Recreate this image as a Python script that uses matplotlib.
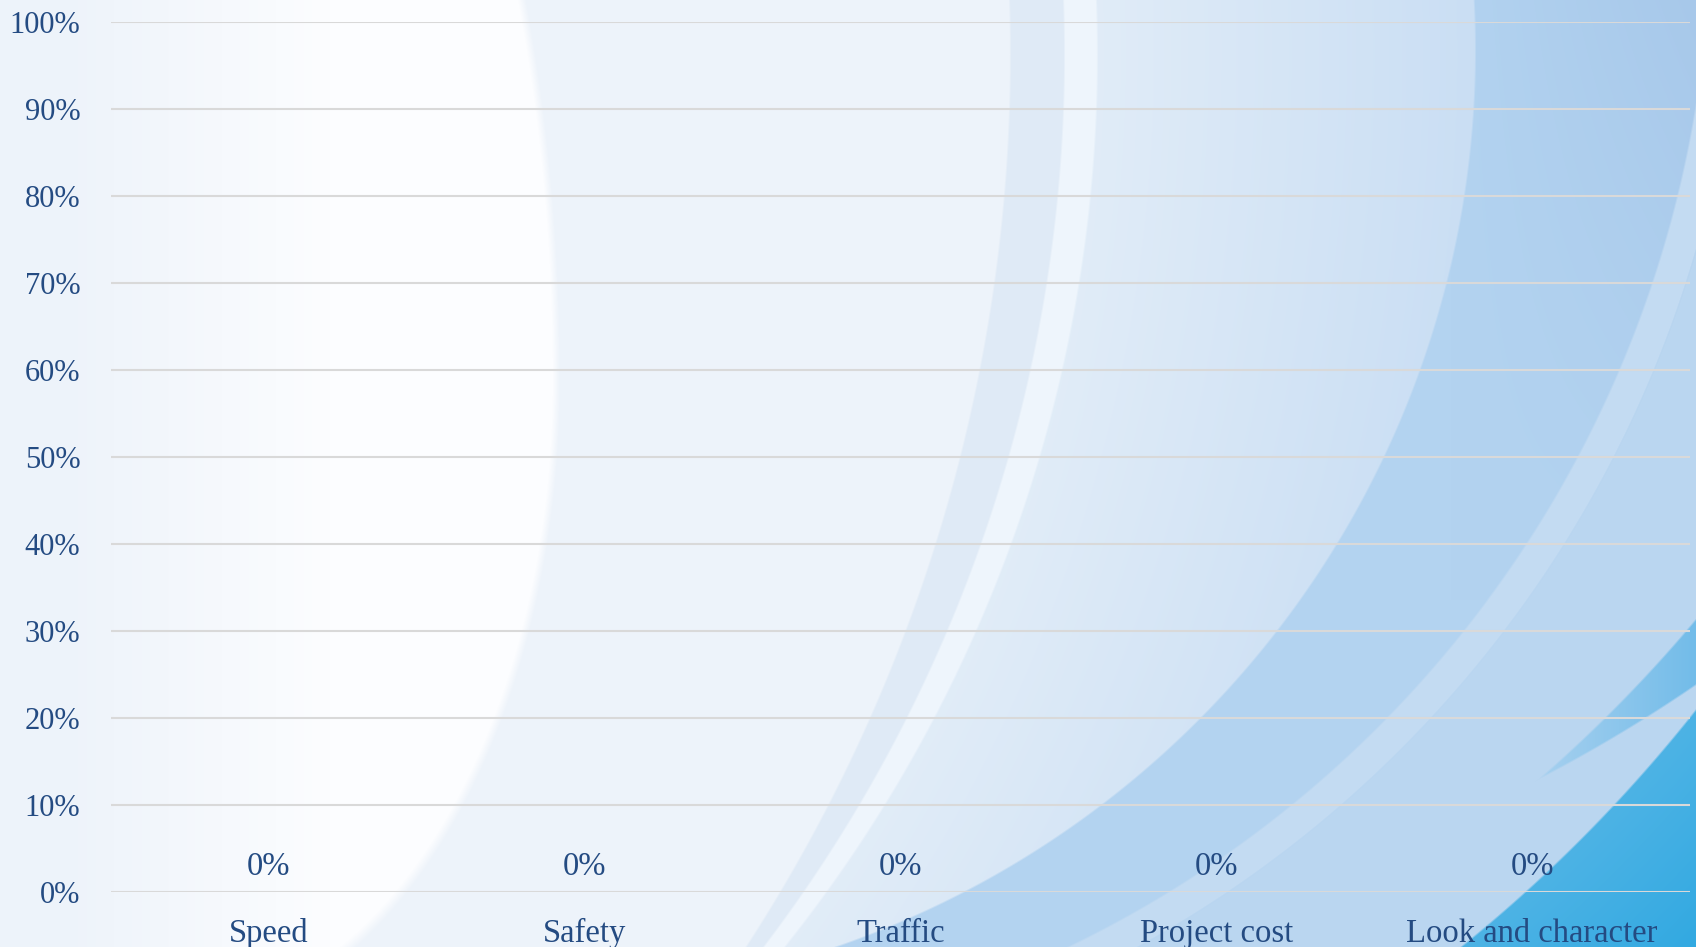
import numpy as np
import matplotlib
matplotlib.use("Agg")
import matplotlib.pyplot as plt
from matplotlib.colors import to_rgb

# --- datos ---
categorias = ["Speed", "Safety", "Traffic", "Project cost", "Look and character"]
valores = [0.0, 0.0, 0.0, 0.0, 0.0]
ticks_y = [0.0, 0.1, 0.2, 0.3, 0.4, 0.5, 0.6, 0.7, 0.8, 0.9, 1.0]

COLOR_TEXTO = "#244b82"
FUENTE = ["Liberation Serif", "DejaVu Serif"]

W, H = 1696, 947


def mezcla(a, b, t):
    a, b = np.array(to_rgb(a)), np.array(to_rgb(b))
    t = np.asarray(t)[..., None]
    return a * (1 - t) + b * t


def pintar(img, peso, color):
    # mezcla suave: peso entre 0 y 1 por píxel
    col = np.broadcast_to(np.asarray(color, dtype=float), img.shape)
    return img * (1 - peso[..., None]) + col * peso[..., None]


def borde(d, r, ancho=2.0):
    return np.clip((d - r) / ancho + 0.5, 0, 1)


# --- fondo decorativo (arcos azules) ---
yy, xx = np.mgrid[0:H, 0:W].astype(float)

# degradado general
d0 = np.hypot(xx + 410, yy - 54)
t = np.clip((d0 - 1480) / (1950 - 1480), 0, 1)
img = mezcla("#e2edf8", "#c6dcf3", t)

# zona más oscura a la derecha
dB = np.hypot(xx - 527, yy - 50)
tB = np.clip((xx - 1450) / 250, 0, 1) * np.clip(1 - yy / 600, 0, 1)
img = pintar(img, borde(dB, 948), mezcla("#b3d3f0", "#a7c8ea", tB))

# franja clara diagonal y zona inferior
dL = np.hypot(xx - 575, yy + 76)
enB = borde(dB, 948)
img = pintar(img, enB * borde(dL, 1135) * (1 - borde(dL, 1167)), to_rgb("#c3dbf2"))
img = pintar(img, enB * borde(dL, 1167), to_rgb("#bad6f0"))

# arco con dos franjas
d_in = np.hypot(xx + 629, yy - 54)
d_mid = np.hypot(xx + 410, yy - 54)
d_out = np.hypot(xx + 333, yy - 54)
img = pintar(img, 1 - borde(d_out, 1430), to_rgb("#eef5fc"))
img = pintar(img, 1 - borde(d_mid, 1474), to_rgb("#dfeaf6"))
img = pintar(img, 1 - borde(d_in, 1639), to_rgb("#edf3fa"))

# brillo blanco a la izquierda (elipse con radio vertical distinto arriba y abajo)
b = np.where(yy < 380, 930.0, 645.0)
e = ((xx - 170) / 390) ** 2 + ((yy - 380) / b) ** 2
g = np.clip((1 - e) / 0.04, 0, 1) * np.clip((xx - 60) / 270, 0, 1)
img = pintar(img, g, to_rgb("#fcfdff"))

# zona azul intensa abajo a la derecha
d3 = np.hypot(xx - 519, yy + 221)
tb = np.clip((d3 - 1500) / 250, 0, 1)
img = pintar(img, borde(d3, 1500), mezcla("#4db3e5", "#22a3df", tb))

# estela
du = np.hypot(xx - 600, yy + 300)
dl = np.hypot(xx - 850, yy + 550)
te = np.clip((xx - 1540) / 156, 0, 1)
img = pintar(img, borde(du, 1430) * (1 - borde(dl, 1496)) * (1 - borde(d3, 1500)),
             mezcla("#a6d0ef", "#72bce9", te))

fig = plt.figure(figsize=(W / 100, H / 100), dpi=100)
fondo = fig.add_axes([0, 0, 1, 1], zorder=0)
fondo.imshow(np.clip(img, 0, 1), aspect="auto", extent=[0, W, H, 0])
fondo.axis("off")

# --- gráfico ---
ax = fig.add_axes([111 / W, 1 - 892 / H, (1690 - 111) / W, (892 - 22) / H], zorder=1)
ax.patch.set_alpha(0)
x = np.arange(len(categorias))
barras = ax.bar(x, valores, width=0.6, color="#4f81bd", zorder=3)
ax.bar_label(barras, labels=[f"{v:.0%}" for v in valores], padding=7,
             fontsize=23.5, color=COLOR_TEXTO, family=FUENTE)

ax.set_xlim(-0.5, len(categorias) - 0.5)
ax.set_ylim(0, 1)
ax.set_yticks(ticks_y)
ax.set_yticklabels([f"{v:.0%}" for v in ticks_y])
ax.set_xticks(x)
ax.set_xticklabels(categorias)
ax.grid(axis="y", color="#d9d9d9", linewidth=1.5, zorder=0)
ax.set_axisbelow(True)
for s in ax.spines.values():
    s.set_visible(False)
ax.tick_params(axis="both", length=0, labelcolor=COLOR_TEXTO)
ax.tick_params(axis="y", pad=22, labelsize=22)
ax.tick_params(axis="x", pad=19, labelsize=23.5)
for lbl in ax.get_xticklabels() + ax.get_yticklabels():
    lbl.set_family(FUENTE)

fig.savefig("out.png", dpi=100)
